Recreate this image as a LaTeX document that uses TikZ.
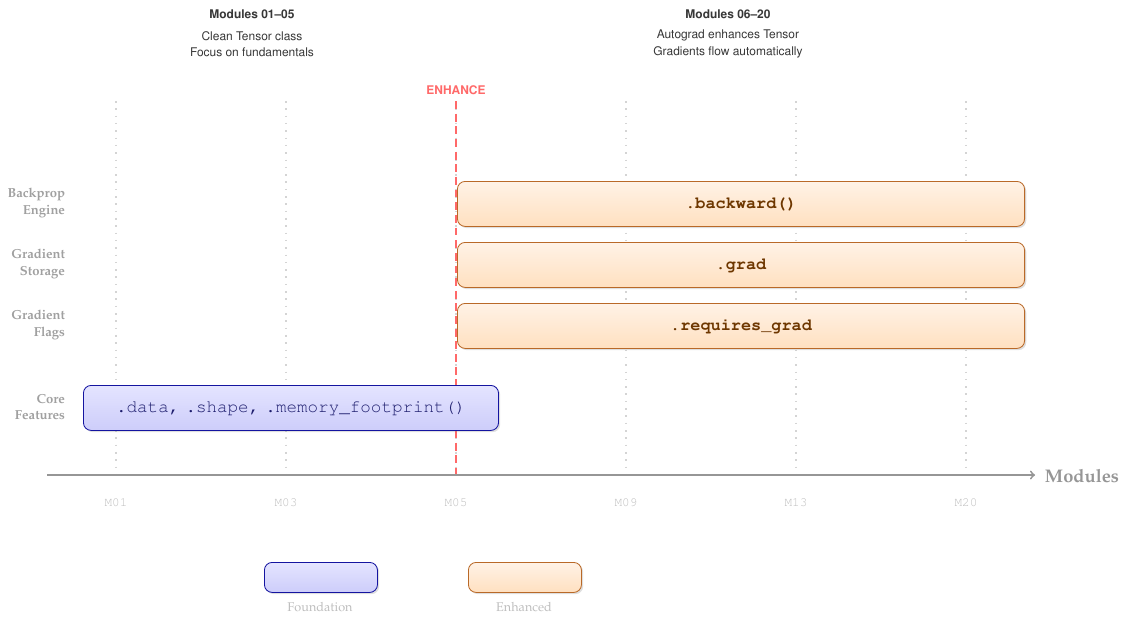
\documentclass[tikz,border=0pt]{standalone}
\usepackage[T1]{fontenc}
\usepackage{mathpazo}
\usepackage{helvet}
\usepackage{courier}
\usetikzlibrary{shadows}

\definecolor{foundfill}{RGB}{205,205,250}
\definecolor{foundtop}{RGB}{228,228,255}
\definecolor{foundline}{RGB}{20,20,160}
\definecolor{foundtext}{RGB}{30,30,110}
\definecolor{enhfill}{RGB}{255,224,192}
\definecolor{enhtop}{RGB}{255,242,230}
\definecolor{enhline}{RGB}{185,105,40}
\definecolor{enhtext}{RGB}{110,55,0}
\definecolor{enhred}{RGB}{255,105,105}
\definecolor{rowgray}{RGB}{160,160,160}
\definecolor{ticklabel}{RGB}{190,190,190}
\definecolor{gridgray}{RGB}{212,212,212}
\definecolor{axisgray}{RGB}{150,150,150}
\definecolor{headgray}{RGB}{55,55,55}

\tikzset{
  bar/.style={rounded corners=5.5pt, line width=0.6pt, anchor=north west,
    drop shadow={shadow xshift=1.2pt, shadow yshift=-1.2pt, opacity=0.25}},
  foundbar/.style={bar, draw=foundline, top color=foundtop, bottom color=foundfill,
    text=foundtext, font=\fontsize{12.5}{14}\fontfamily{pcr}\selectfont},
  enhbar/.style={bar, draw=enhline, top color=enhtop, bottom color=enhfill,
    text=enhtext, font=\fontsize{12}{14}\fontfamily{pcr}\bfseries\selectfont},
  rowlabel/.style={anchor=east, align=right, text=rowgray,
    font=\fontsize{9.3}{12}\bfseries\selectfont},
  ticklab/.style={text=ticklabel, font=\fontsize{9}{11}\fontfamily{pcr}\selectfont},
  headtitle/.style={text=headgray, font=\fontsize{8.5}{10}\sffamily\bfseries\selectfont},
  headline/.style={text=headgray, font=\fontsize{8.5}{10}\sffamily\selectfont},
  legendlab/.style={text=ticklabel, font=\fontsize{9}{11}\selectfont}
}

\begin{document}
\begin{tikzpicture}[x=0.025cm, y=-0.025cm]
\useasboundingbox (0,0) rectangle (1122,618);

% grid of modules
\foreach \xx in {116,286,456,626,796,966}
  \draw[gridgray, line width=1.1pt, dash pattern=on 1.1pt off 4.1pt] (\xx,101) -- (\xx,475);

% enhance marker
\node[text=enhred, font=\fontsize{8.5}{10}\sffamily\bfseries\selectfont] (enh) at (456,90) {ENHANCE};
\draw[enhred, line width=1.5pt, dash pattern=on 5.6pt off 3.4pt] (456,101) -- (456,475);

% axis
\coordinate (axs) at (47,475);
\coordinate (axe) at (1035,475);
\draw[axisgray, line width=1.3pt, ->] (axs) -- (axe);
\node[anchor=west, text=axisgray, font=\fontsize{13}{15}\bfseries\selectfont] (axl) at (1040,476) {Modules};
\node[ticklab] (m01) at (116,503) {M01};
\node[ticklab] (m03) at (286,503) {M03};
\node[ticklab] (m05) at (456,503) {M05};
\node[ticklab] (m09) at (626,503) {M09};
\node[ticklab] (m13) at (796,503) {M13};
\node[ticklab] (m20) at (966,503) {M20};

% headers
\node[headtitle] (h1) at (252,14) {Modules 01--05};
\node[headline] (h1a) at (252,36) {Clean Tensor class};
\node[headline] (h1b) at (252,52) {Focus on fundamentals};
\node[headtitle] (h2) at (728,14) {Modules 06--20};
\node[headline] (h2a) at (728,36) {Autograd enhances Tensor};
\node[headline] (h2b) at (728,52) {Gradients flow automatically};

% rows
\node[rowlabel] (r1) at (70,203) {Backprop\\Engine};
\node[rowlabel] (r2) at (70,264) {Gradient\\Storage};
\node[rowlabel] (r3) at (70,325) {Gradient\\Flags};
\node[rowlabel] (r4) at (70,407) {Core\\Features};

\node[enhbar, minimum width=14.175cm, minimum height=1.125cm] (bw) at (457,181) {.backward()};
\node[enhbar, minimum width=14.175cm, minimum height=1.125cm] (gr) at (457,242) {.grad};
\node[enhbar, minimum width=14.175cm, minimum height=1.125cm] (rg) at (457,303) {.requires\_grad};
\node[foundbar, minimum width=10.375cm, minimum height=1.125cm] (core) at (83,385) {.data,\hspace{-0.25em} .shape,\hspace{-0.25em} .memory\_footprint()};

% legend
\node[foundbar, minimum width=2.825cm, minimum height=0.75cm] (lf) at (264,562) {};
\node[enhbar, minimum width=2.825cm, minimum height=0.75cm] (le) at (468,562) {};
\node[legendlab] (lft) at (320,607) {Foundation};
\node[legendlab] (let) at (524,607) {Enhanced};
\end{tikzpicture}
\end{document}
